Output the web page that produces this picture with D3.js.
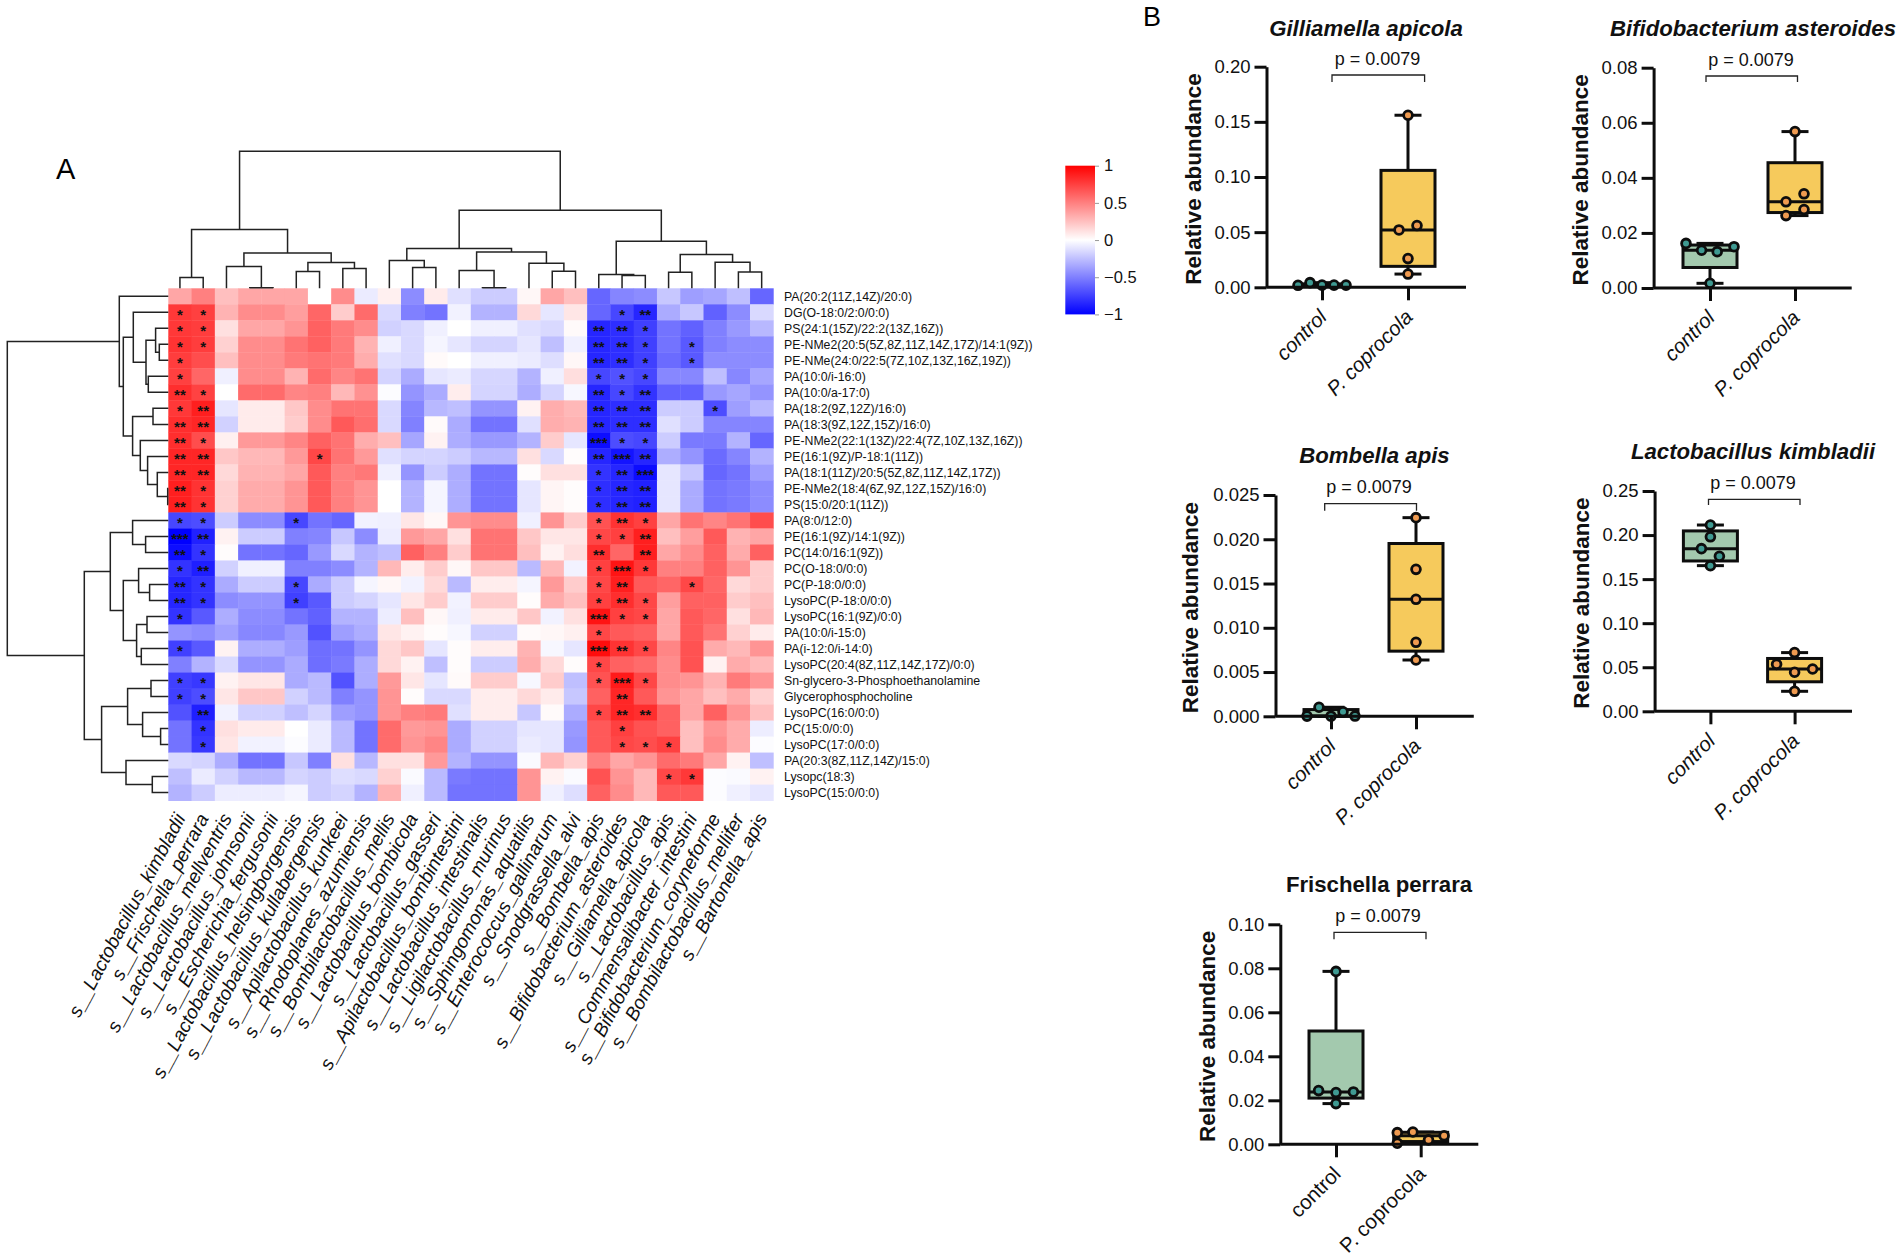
<!DOCTYPE html>
<html><head><meta charset="utf-8">
<script src="https://cdnjs.cloudflare.com/ajax/libs/d3/7.8.5/d3.min.js"></script>
<style>html,body{margin:0;padding:0;background:#fff}svg{display:block}text{font-family:"Liberation Sans",Arial,sans-serif}</style>
</head><body><svg id="c" width="1902" height="1260"></svg>
<script>
const rowNames=["PA(20:2(11Z,14Z)/20:0)","DG(O-18:0/2:0/0:0)","PS(24:1(15Z)/22:2(13Z,16Z))","PE-NMe2(20:5(5Z,8Z,11Z,14Z,17Z)/14:1(9Z))","PE-NMe(24:0/22:5(7Z,10Z,13Z,16Z,19Z))","PA(10:0/i-16:0)","PA(10:0/a-17:0)","PA(18:2(9Z,12Z)/16:0)","PA(18:3(9Z,12Z,15Z)/16:0)","PE-NMe2(22:1(13Z)/22:4(7Z,10Z,13Z,16Z))","PE(16:1(9Z)/P-18:1(11Z))","PA(18:1(11Z)/20:5(5Z,8Z,11Z,14Z,17Z))","PE-NMe2(18:4(6Z,9Z,12Z,15Z)/16:0)","PS(15:0/20:1(11Z))","PA(8:0/12:0)","PE(16:1(9Z)/14:1(9Z))","PC(14:0/16:1(9Z))","PC(O-18:0/0:0)","PC(P-18:0/0:0)","LysoPC(P-18:0/0:0)","LysoPC(16:1(9Z)/0:0)","PA(10:0/i-15:0)","PA(i-12:0/i-14:0)","LysoPC(20:4(8Z,11Z,14Z,17Z)/0:0)","Sn-glycero-3-Phosphoethanolamine","Glycerophosphocholine","LysoPC(16:0/0:0)","PC(15:0/0:0)","LysoPC(17:0/0:0)","PA(20:3(8Z,11Z,14Z)/15:0)","Lysopc(18:3)","LysoPC(15:0/0:0)"];
const colNames=["s__Lactobacillus_kimbladii","s__Frischella_perrara","s__Lactobacillus_mellventris","s__Lactobacillus_johnsonii","s__Escherichia_fergusonii","s__Lactobacillus_helsingborgensis","s__Lactobacillus_kullabergensis","s__Apilactobacillus_kunkeei","s__Rhodoplanes_azumiensis","s__Bombilactobacillus_mellis","s__Lactobacillus_bombicola","s__Lactobacillus_gasseri","s__Apilactobacillus_bombintestini","s__Lactobacillus_intestinalis","s__Ligilactobacillus_murinus","s__Sphingomonas_aquatilis","s__Enterococcus_gallinarum","s__Snodgrassella_alvi","s__Bombella_apis","s__Bifidobacterium_asteroides","s__Gilliamella_apicola","s__Lactobacillus_apis","s__Commensalibacter_intestini","s__Bifidobacterium_coryneforme","s__Bombilactobacillus_mellifer","s__Bartonella_apis"];
const corrValues=[
[.35,.5,.25,.35,.35,.35,0,.45,-.08,.06,-.45,.08,-.12,-.2,-.2,.03,.35,.25,-.6,-.48,-.45,-.22,-.38,-.35,-.25,-.6],
[.78,.75,.3,.45,.45,.38,.6,.2,.58,-.15,-.5,-.55,-.05,-.3,-.3,.15,-.1,.1,-.6,-.72,-.85,-.33,-.22,-.62,-.45,-.15],
[.78,.76,.12,.35,.35,.42,.62,.52,.45,-.18,-.15,-.06,0,-.06,-.06,-.12,-.15,.02,-.85,-.82,-.75,-.55,-.62,-.5,-.4,-.28],
[.8,.76,.18,.45,.45,.55,.62,.52,.3,-.06,-.15,-.04,-.1,-.17,-.17,-.1,-.25,-.06,-.85,-.82,-.75,-.55,-.65,-.5,-.45,-.45],
[.76,.7,.25,.45,.45,.52,.55,.52,.32,-.12,-.15,.02,0,-.06,-.06,-.08,-.13,.03,-.85,-.82,-.75,-.58,-.65,-.45,-.45,-.45],
[.75,.6,-.06,.45,.45,.3,.58,.48,.55,-.17,-.33,-.1,-.08,-.16,-.16,-.3,-.06,.13,-.72,-.68,-.72,-.47,-.47,-.25,-.47,-.35],
[.82,.74,0,.58,.58,.48,.5,.28,.43,-.01,-.42,-.33,.07,-.17,-.17,-.32,-.17,-.03,-.85,-.72,-.8,-.62,-.62,-.4,-.35,-.42],
[.78,.88,-.1,.08,.08,.22,.45,.55,.55,-.15,-.48,-.28,-.25,-.42,-.42,.05,.32,.28,-.85,-.82,-.82,-.2,-.2,-.7,-.38,-.28],
[.82,.85,-.18,.08,.08,.2,.45,.65,.57,-.15,-.5,.02,-.33,-.55,-.55,-.12,.32,.3,-.85,-.82,-.82,-.12,-.2,-.48,-.48,-.48],
[.82,.7,.06,.4,.4,.48,.62,.55,.32,.25,-.35,.05,-.32,-.4,-.4,-.3,.2,-.1,-.95,-.7,-.72,-.2,-.52,-.52,-.3,-.6],
[.85,.85,.22,.28,.28,.4,.72,.55,.4,-.12,-.17,-.17,-.2,-.28,-.28,.12,-.15,.01,-.85,-.92,-.85,-.32,-.42,-.58,-.48,-.3],
[.85,.85,.15,.3,.3,.35,.65,.5,.53,-.06,-.42,-.2,-.32,-.55,-.55,.01,.12,.12,-.8,-.85,-.95,-.1,-.22,-.6,-.55,-.38],
[.88,.8,.18,.33,.33,.42,.65,.5,.42,0,-.3,-.04,-.32,-.55,-.55,-.1,.04,.01,-.82,-.85,-.87,-.1,-.33,-.55,-.52,-.45],
[.88,.8,.18,.33,.33,.42,.65,.5,.42,0,-.3,-.04,-.32,-.55,-.55,-.1,.04,.01,-.82,-.85,-.87,-.1,-.33,-.55,-.52,-.45],
[-.72,-.7,-.2,-.45,-.45,-.72,-.55,-.6,-.05,-.06,.1,.03,.42,.45,.45,-.06,.42,.2,.68,.8,.75,.35,.55,.48,.55,.7],
[-1,-.87,.05,-.2,-.2,-.5,-.48,-.22,-.45,-.07,.4,.35,.12,.55,.55,.22,.1,.1,.72,.75,.88,.25,.38,.65,.3,.35],
[-.95,-.8,.01,-.55,-.55,-.6,-.4,-.15,-.3,-.25,.62,.5,.2,.55,.55,.25,.05,.13,.82,.6,.88,.35,.45,.62,.33,.62],
[-.8,-.88,-.18,-.06,-.06,-.5,-.5,-.45,-.3,.28,.07,.2,.03,.22,.22,-.27,.28,-.05,.75,.92,.78,.5,.5,.62,.42,.2],
[-.85,-.8,-.33,-.2,-.2,-.72,-.33,-.2,-.04,.03,-.05,.15,-.27,.07,.07,-.04,.4,.2,.72,.88,.65,.6,.72,.6,.15,.2],
[-.85,-.8,-.45,-.42,-.42,-.75,-.65,-.2,-.17,-.1,.1,.2,-.05,.2,.2,.01,.33,.25,.75,.82,.72,.38,.62,.62,.2,.25],
[-.8,-.65,-.32,-.45,-.45,-.55,-.62,-.3,-.3,-.07,.25,.03,-.06,.08,.08,.22,-.05,.12,.92,.75,.72,.35,.65,.6,.12,.28],
[-.42,-.45,-.37,-.47,-.47,-.4,-.68,-.38,-.32,.1,.05,.01,-.03,-.18,-.18,.02,.03,.06,.72,.65,.62,.35,.65,.55,.18,.08],
[-.75,-.65,.05,-.32,-.32,-.38,-.57,-.55,-.42,.15,.22,-.1,.01,.07,.07,.3,-.03,-.1,.95,.8,.72,.48,.68,.33,.28,.42],
[-.5,-.3,-.15,-.42,-.42,-.33,-.57,-.52,-.32,.15,.05,-.25,.01,-.2,-.2,.32,.15,.01,.72,.62,.58,.45,.68,.05,.33,.27],
[-.75,-.78,.05,.1,.1,-.33,-.27,-.68,-.32,.4,.1,-.1,.02,.2,.2,-.03,.2,-.25,.68,.9,.72,.45,.42,.3,.52,.42],
[-.75,-.7,.1,.22,.22,-.18,-.27,-.5,-.42,.42,.01,-.15,-.15,.07,.07,.15,.08,-.22,.62,.85,.65,.42,.35,.25,.33,.18],
[-.68,-.88,-.05,-.18,-.18,-.25,-.17,-.38,-.42,.42,.5,.52,-.12,.07,.07,-.22,.02,-.33,.72,.85,.82,.62,.35,.62,.42,.25],
[-.55,-.8,.12,.08,.08,0,-.08,-.27,-.55,.58,.4,.42,-.33,-.18,-.18,-.1,-.1,-.4,.65,.75,.68,.62,.25,.42,.33,-.07],
[-.55,-.78,.1,-.05,-.05,-.01,-.08,-.27,-.55,.58,.42,.48,-.33,-.18,-.18,-.08,-.1,-.42,.65,.72,.7,.75,.25,.45,.33,-.01],
[-.15,-.17,-.32,-.55,-.55,-.22,-.5,.12,-.28,.12,.12,.4,-.3,-.42,-.42,-.02,.28,.18,.5,.35,.42,.58,.52,.35,.05,-.25],
[-.25,-.08,-.18,-.28,-.28,-.17,-.2,-.13,-.15,.18,-.02,-.27,-.52,-.55,-.55,.42,.05,-.02,.68,.42,.28,.72,.78,-.01,-.02,.05],
[-.3,-.2,-.07,-.07,-.07,-.04,-.2,-.17,-.3,.3,-.06,-.27,-.55,-.55,-.55,.42,-.06,-.13,.62,.45,.28,.65,.65,-.01,-.06,-.1]
];
const sigStars=[
"00000000000000000000000000",
"11000000000000000001200000",
"11000000000000000022100000",
"11000000000000000022101000",
"10000000000000000022101000",
"10000000000000000011100000",
"21000000000000000021200000",
"12000000000000000022200100",
"22000000000000000022200000",
"21000000000000000031100000",
"22000010000000000023200000",
"22000000000000000012300000",
"21000000000000000012200000",
"21000000000000000012200000",
"11000100000000000012100000",
"32000000000000000011200000",
"21000000000000000020200000",
"12000000000000000013100000",
"21000100000000000012001000",
"21000100000000000012100000",
"10000000000000000031100000",
"00000000000000000010000000",
"10000000000000000032100000",
"00000000000000000010000000",
"11000000000000000013100000",
"11000000000000000002000000",
"02000000000000000012200000",
"01000000000000000001000000",
"01000000000000000001110000",
"00000000000000000000000000",
"00000000000000000000011000",
"00000000000000000000000000"];
// linkage trees: [distance, left, right], leaves are indices
const colTree=[136.7,
 [58.7,[10.7,0,1],[35.3,[21.7,2,[.6,3,4]],[25.7,[16.7,5,6],[19.7,7,8]]]],
 [78,[39.7,[27.7,9,[20.7,10,11]],[36.3,[17.7,12,[.6,13,14]],[25,15,[17,16,17]]]],
     [47,[13.7,18,[12.7,19,20]],[33.7,[16,21,22],[26,23,[16.3,24,25]]]]]];
const rowTree=[161,
 [49,0,[45,[35,1,[22.3,[12.7,2,[9,3,4]],[20,5,6]]],[35.7,[15.3,7,8],[28,9,[20.7,10,[11,11,[.6,12,13]]]]]]],
 [84,[58,[35.7,14,[22.7,15,16]],[45,[29.7,17,[18.7,18,19]],[31.7,[21.3,20,21],[27,22,23]]]],
     [66.7,[40.7,[17.3,24,25],[25.7,26,[7.7,27,28]]],[42.3,29,[16,30,31]]]]];
const legendTicks=[1,.5,0,-.5,-1];
const groups=["control","P. coprocola"];
// relative abundance per sample, and swarm slot of each sample
const gillControl=[.0018,.0042,.002,.002,.002], gillControlSlot=[-2,-1,0,1,2];
const gillCopro=[.156,.056,.052,.026,.012], gillCoproSlot=[0,.75,-.75,0,0];
const bifiControl=[.0162,.0137,.0132,.015,.0017], bifiControlSlot=[-2,-.7,.6,2,0];
const bifiCopro=[.0568,.0342,.0313,.0285,.0263], bifiCoproSlot=[0,.75,-.75,.75,-.75];
const bombControl=[.00002,.00102,.00001,.0005,.00003], bombControlSlot=[-2,-1,0,1,2];
const bombCopro=[.02244,.0166,.01322,.00836,.00636], bombCoproSlot=[0,0,0,0,0];
const lactControl=[.2114,.198,.1846,.1759,.1653], lactControlSlot=[0,0,-.75,.75,0];
const lactCopro=[.0666,.0533,.048,.0443,.0227], lactCoproSlot=[0,-1.5,1.5,0,0];
const frisControl=[.0786,.0244,.0235,.0238,.0185], frisControlSlot=[0,-1.45,0,1.45,0];
const frisCopro=[.0053,.0056,.002,.0039,.0005], frisCoproSlot=[-1.95,-.65,.65,1.95,-1.95];
const pValueText="p = 0.0079";
const yLabel="Relative abundance";

const svg=d3.select("#c");
// ---------- heatmap
const H={l:168.3,r:773.3,t:288.3,b:800.6};
const colIdx=d3.range(colNames.length), rowIdx=d3.range(rowNames.length);
const xH=d3.scaleBand().domain(colIdx).range([H.l,H.r]);
const yH=d3.scaleBand().domain(rowIdx).range([H.t,H.b]);
const color=d3.scaleLinear().domain([-1,0,1]).range(["#0000ff","#ffffff","#ff0000"]);
const cells=rowIdx.flatMap(r=>colIdx.map(c=>({r,c,v:corrValues[r][c],s:+sigStars[r][c]})));
svg.append("g").selectAll("rect").data(cells).join("rect")
 .attr("x",d=>xH(d.c)).attr("y",d=>yH(d.r)).attr("width",xH.bandwidth()+.4).attr("height",yH.bandwidth()+.4)
 .attr("fill",d=>color(d.v));
svg.append("g").selectAll("text").data(cells.filter(d=>d.s>0)).join("text")
 .attr("x",d=>xH(d.c)+xH.bandwidth()/2).attr("y",d=>yH(d.r)+yH.bandwidth()/2+7.2)
 .attr("text-anchor","middle").attr("font-size",15).attr("font-weight","bold").attr("fill","#111")
 .text(d=>"*".repeat(d.s));
svg.append("g").selectAll("text").data(rowIdx).join("text")
 .attr("x",784).attr("y",r=>yH(r)+yH.bandwidth()/2).attr("dy","0.36em")
 .attr("font-size",12.3).attr("fill","#111").text(r=>rowNames[r]);
svg.append("g").selectAll("text").data(colIdx).join("text")
 .attr("text-anchor","end").attr("font-style","italic").attr("font-size",19.2).attr("fill","#111")
 .attr("transform",c=>`translate(${xH(c)+xH.bandwidth()/2+6},${818}) rotate(-62)`)
 .text(c=>colNames[c]);
// ---------- dendrograms
const hTop=d3.scaleLinear().domain([0,136.7]).range([H.t,151.3]);
const hLeft=d3.scaleLinear().domain([0,161]).range([H.l,7.3]);
const gD=svg.append("g").attr("fill","none").attr("stroke","#222").attr("stroke-width",1.5);
function dendro(node,pos,h,horizontal){
 if(typeof node==="number") return {p:pos(node),d:0};
 const a=dendro(node[1],pos,h,horizontal), b=dendro(node[2],pos,h,horizontal), y=h(node[0]);
 const pts=[[a.p,h(a.d)],[a.p,y],[b.p,y],[b.p,h(b.d)]];
 gD.append("path").attr("d",d3.line().x(q=>horizontal?q[1]:q[0]).y(q=>horizontal?q[0]:q[1])(pts));
 return {p:(a.p+b.p)/2,d:node[0]};
}
dendro(colTree,c=>xH(c)+xH.bandwidth()/2,hTop,false);
dendro(rowTree,r=>yH(r)+yH.bandwidth()/2,hLeft,true);
// ---------- colour legend
const yL=d3.scaleLinear().domain([-1,1]).range([314.4,165.7]);
const grad=svg.append("defs").append("linearGradient").attr("id","lg").attr("x1",0).attr("x2",0).attr("y1",1).attr("y2",0);
[-1,0,1].forEach(v=>grad.append("stop").attr("offset",(v+1)/2).attr("stop-color",color(v)));
svg.append("rect").attr("x",1065.3).attr("y",165.7).attr("width",29.7).attr("height",148.7).attr("fill","url(#lg)");
const lg=svg.append("g").attr("transform","translate(1095,0)").call(d3.axisRight(yL).tickValues(legendTicks).tickSize(4).tickPadding(5).tickFormat(d3.format("")));
lg.select(".domain").remove();
lg.selectAll("line").attr("stroke","#999");
lg.selectAll("text").attr("font-size",16.5).attr("fill","#111").style("font-family",'"Liberation Sans"');
// ---------- panel letters
svg.append("text").attr("x",56).attr("y",179).attr("font-size",29).text("A");
svg.append("text").attr("x",1143).attr("y",26).attr("font-size",27).text("B");
// ---------- box plots
function quart(a){const s=[...a].sort(d3.ascending),n=s.length,at=p=>{const k=p*(n+1)-1,f=Math.floor(k);return s[f]+(k-f)*(s[f+1]-s[f]);};
 return {min:s[0],q1:at(.25),med:at(.5),q3:at(.75),max:s[n-1]};}
const panels=[
 {title:"Gilliamella apicola",tItalic:true,tx:1366,ty:35.5,ax:1266.5,y0:287.3,y1:66.7,xe:1466,t:[1322,1408],dom:.2,step:.05,fmt:".2f",a:gillControl,as:gillControlSlot,b:gillCopro,bs:gillCoproSlot,br:[1332,1424.6,75,82],px:1377.6,py:65,lx:1201,lItalic:true},
 {title:"Bifidobacterium asteroides",tItalic:true,tx:1753,ty:35.5,ax:1653.6,y0:288,y1:67.7,xe:1851.7,t:[1710,1795],dom:.08,step:.02,fmt:".2f",a:bifiControl,as:bifiControlSlot,b:bifiCopro,bs:bifiCoproSlot,br:[1706,1797.5,76,82],px:1751,py:65.5,lx:1588,lItalic:true},
 {title:"Bombella apis",tItalic:true,tx:1374.5,ty:463,ax:1275.5,y0:716.3,y1:495,xe:1473.8,t:[1331,1416],dom:.025,step:.005,fmt:".3f",a:bombControl,as:bombControlSlot,b:bombCopro,bs:bombCoproSlot,br:[1324.7,1416.5,503.7,510.7],px:1369,py:493,lx:1198,lItalic:true},
 {title:"Lactobacillus kimbladii",tItalic:true,tx:1753,ty:459,ax:1654.6,y0:711.3,y1:491,xe:1852,t:[1710.4,1794.6],dom:.25,step:.05,fmt:".2f",a:lactControl,as:lactControlSlot,b:lactCopro,bs:lactCoproSlot,br:[1708.5,1800,499.3,505],px:1753,py:488.7,lx:1589,lItalic:true},
 {title:"Frischella perrara",tItalic:false,tx:1379,ty:892,ax:1280.3,y0:1144.3,y1:924.3,xe:1478.3,t:[1336,1420.7],dom:.1,step:.02,fmt:".2f",a:frisControl,as:frisControlSlot,b:frisCopro,bs:frisCoproSlot,br:[1334,1426,932.3,939.3],px:1378,py:921.7,lx:1215,lItalic:false}
];
const boxFill=["#a3c9ae","#f6ca5c"], ptFill=["#3f9a92","#ef9a50"], ink="#0d0d0d", slotPx=12;
panels.forEach(P=>{
 const g=svg.append("g");
 const y=d3.scaleLinear().domain([0,P.dom]).range([P.y0,P.y1]);
 const x=d3.scalePoint().domain(groups).range(P.t);
 g.append("text").attr("x",P.tx).attr("y",P.ty).attr("text-anchor","middle").attr("font-size",22.2).attr("font-weight","bold")
  .attr("font-style",P.tItalic?"italic":"normal").attr("fill","#111").text(P.title);
 g.append("text").attr("x",P.px).attr("y",P.py).attr("text-anchor","middle").attr("font-size",18).attr("fill","#111").text(pValueText);
 g.append("path").attr("d",d3.line()([[P.br[0],P.br[3]],[P.br[0],P.br[2]],[P.br[1],P.br[2]],[P.br[1],P.br[3]]])).attr("fill","none").attr("stroke","#222").attr("stroke-width",1.3);
 g.append("text").attr("transform",`translate(${P.lx},${(P.y0+P.y1)/2+2}) rotate(-90)`).attr("text-anchor","middle").attr("font-size",22.5).attr("font-weight","bold").attr("fill","#111").text(yLabel);
 [[P.a,P.as],[P.b,P.bs]].forEach((pair,i)=>{
  const cx=x(groups[i]), q=quart(pair[0]), bw=27, cap=13.5;
  const bx=g.append("g").attr("stroke",ink).attr("stroke-width",3).attr("fill","none");
  bx.append("line").attr("x1",cx).attr("x2",cx).attr("y1",y(q.min)).attr("y2",y(q.max));
  bx.append("line").attr("x1",cx-cap).attr("x2",cx+cap).attr("y1",y(q.max)).attr("y2",y(q.max));
  bx.append("line").attr("x1",cx-cap).attr("x2",cx+cap).attr("y1",y(q.min)).attr("y2",y(q.min));
  bx.append("rect").attr("x",cx-bw).attr("width",2*bw).attr("y",y(q.q3)).attr("height",Math.max(0,y(q.q1)-y(q.q3))).attr("fill",boxFill[i]);
  bx.append("line").attr("x1",cx-bw).attr("x2",cx+bw).attr("y1",y(q.med)).attr("y2",y(q.med));
  g.append("g").selectAll("circle").data(pair[0]).join("circle")
   .attr("cx",(d,k)=>cx+pair[1][k]*slotPx).attr("cy",d=>y(d)).attr("r",4.4)
   .attr("fill",ptFill[i]).attr("stroke",ink).attr("stroke-width",2.8);
 });
 const ay=g.append("g").attr("transform",`translate(${P.ax},0)`).call(d3.axisLeft(y).tickValues(d3.range(0,P.dom+P.step/2,P.step)).tickSize(12).tickSizeOuter(0).tickPadding(4).tickFormat(d3.format(P.fmt)));
 ay.selectAll("path,line").attr("stroke",ink).attr("stroke-width",3);
 ay.selectAll("text").attr("font-size",18.5).attr("fill","#111").style("font-family",'"Liberation Sans"');
 const ax=g.append("g").attr("transform",`translate(0,${P.y0})`).call(d3.axisBottom(x).tickSize(13).tickSizeOuter(0));
 ax.select(".domain").remove();
 ax.selectAll("line").attr("stroke",ink).attr("stroke-width",3);
 ax.selectAll("text").remove();
 g.append("line").attr("x1",P.ax).attr("x2",P.xe).attr("y1",P.y0).attr("y2",P.y0).attr("stroke",ink).attr("stroke-width",3);
 g.append("g").selectAll("text").data(groups).join("text")
  .attr("text-anchor","end").attr("font-size",20.5).attr("font-style",P.lItalic?"italic":"normal").attr("fill","#111")
  .attr("transform",d=>`translate(${x(d)+6},${P.y0+31}) rotate(-45)`).text(d=>d);
});
</script></body></html>
